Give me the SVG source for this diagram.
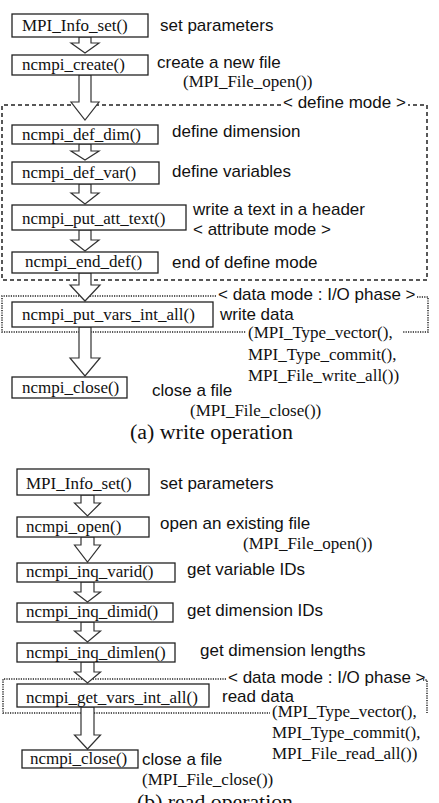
<svg xmlns="http://www.w3.org/2000/svg" width="439" height="803" viewBox="0 0 439 803">
<style>
.bg{fill:#fff}
.box{fill:#fff;stroke:#222;stroke-width:1.3}
.arrow{fill:#fff;stroke:#333;stroke-width:1.2;stroke-linejoin:miter}
.fn{font-family:"Liberation Serif","Times New Roman",serif;font-size:17px;fill:#111}
.lbl{font-family:"Liberation Sans",Arial,sans-serif;font-size:17px;fill:#111}
.cap{font-family:"Liberation Serif","Times New Roman",serif;font-size:20px;fill:#111}
.dash{fill:none;stroke:#222;stroke-width:1.5;stroke-dasharray:4 3}
.dot{fill:none;stroke:#222;stroke-width:1.5;stroke-dasharray:1.2 1.2}
</style>
<rect class="bg" x="0" y="0" width="439" height="803"/>

<g id="regions">
  <!-- (a) define mode -->
  <path class="dash" d="M281,105 H2 V280 H427 V105 H408"/>
  <text class="lbl" x="283" y="108">&lt; define mode &gt;</text>
  <!-- (a) data mode -->
  <path class="dot" d="M216,296 H2 V332 H246"/>
  <path class="dot" d="M417,297 H428 V332 H402"/>
  <text class="lbl" x="218" y="300">&lt; data mode : I/O phase &gt;</text>
  <!-- (b) data mode -->
  <path class="dot" d="M226,679 H3 V713 H270"/>
  <path class="dot" d="M423,680 H427 V713"/>
  <text class="lbl" x="228" y="683">&lt; data mode : I/O phase &gt;</text>
</g>

<g id="connectors">
  <polygon class="arrow" points="79,37 91,37 91,43 99,43 85,53 71,43 79,43"/>
  <polygon class="arrow" points="79,75 91,75 91,102 99,102 85,120 71,102 79,102"/>
  <polygon class="arrow" points="79,144 91,144 91,151 99,151 85,160 71,151 79,151"/>
  <polygon class="arrow" points="79,184 91,184 91,193 99,193 85,204 71,193 79,193"/>
  <polygon class="arrow" points="79,230 91,230 91,240 99,240 85,251 71,240 79,240"/>
  <polygon class="arrow" points="79,273 91,273 91,285 100,285 85,301 70,285 79,285"/>
  <polygon class="arrow" points="79,327 91,327 91,358 100,358 85,376 70,358 79,358"/>

  <polygon class="arrow" points="81,495 94,495 94,503 100.5,503 87.5,516 74.5,503 81,503"/>
  <polygon class="arrow" points="81,537 94,537 94,545 100.5,545 87.5,562 74.5,545 81,545"/>
  <polygon class="arrow" points="81,582 94,582 94,592 100.5,592 87.5,602 74.5,592 81,592"/>
  <polygon class="arrow" points="81,622 94,622 94,631 100.5,631 87.5,642 74.5,631 81,631"/>
  <polygon class="arrow" points="81,662 94,662 94,672 100.5,672 87.5,683 74.5,672 81,672"/>
  <polygon class="arrow" points="81,707 94,707 94,735 100.5,735 87.5,749 74.5,735 81,735"/>
</g>

<!-- (a) write operation -->
<g id="a_info_set">
  <rect class="box" x="12" y="14" width="136" height="23"/>
  <text class="fn" x="22" y="31">MPI_Info_set()</text>
  <text class="lbl" x="160" y="31">set parameters</text>
</g>
<g id="a_create">
  <rect class="box" x="12" y="55" width="136" height="20"/>
  <text class="fn" x="22" y="70">ncmpi_create()</text>
  <text class="lbl" x="157" y="68">create a new file</text>
  <text class="fn" x="183" y="87">(MPI_File_open())</text>
</g>
<g id="a_def_dim">
  <rect class="box" x="12" y="125" width="146" height="19"/>
  <text class="fn" x="22" y="140">ncmpi_def_dim()</text>
  <text class="lbl" x="172" y="137">define dimension</text>
</g>
<g id="a_def_var">
  <rect class="box" x="12" y="162" width="147" height="22"/>
  <text class="fn" x="22" y="178">ncmpi_def_var()</text>
  <text class="lbl" x="172" y="177">define variables</text>
</g>
<g id="a_put_att_text">
  <rect class="box" x="12" y="205" width="174" height="25"/>
  <text class="fn" x="22" y="224">ncmpi_put_att_text()</text>
  <text class="lbl" x="193" y="215">write a text in a header</text>
  <text class="lbl" x="193" y="235">&lt; attribute mode &gt;</text>
</g>
<g id="a_end_def">
  <rect class="box" x="12" y="252" width="146" height="21"/>
  <text class="fn" x="25" y="267">ncmpi_end_def()</text>
  <text class="lbl" x="172" y="268">end of define mode</text>
</g>
<g id="a_put_vars">
  <rect class="box" x="12" y="302" width="201" height="25"/>
  <text class="fn" x="22" y="320">ncmpi_put_vars_int_all()</text>
  <text class="lbl" x="220" y="320">write data</text>
  <text class="fn" x="248" y="338">(MPI_Type_vector(),</text>
  <text class="fn" x="248" y="360">MPI_Type_commit(),</text>
  <text class="fn" x="248" y="381">MPI_File_write_all())</text>
</g>
<g id="a_close">
  <rect class="box" x="12" y="377" width="115" height="21"/>
  <text class="fn" x="22" y="393">ncmpi_close()</text>
  <text class="lbl" x="152" y="396">close a file</text>
  <text class="fn" x="190" y="416">(MPI_File_close())</text>
</g>
<text class="cap" x="130" y="439" textLength="163" lengthAdjust="spacingAndGlyphs">(a) write operation</text>

<!-- (b) read operation -->
<g id="b_info_set">
  <rect class="box" x="17" y="469" width="132" height="26"/>
  <text class="fn" x="26" y="489">MPI_Info_set()</text>
  <text class="lbl" x="160" y="489">set parameters</text>
</g>
<g id="b_open">
  <rect class="box" x="17" y="517" width="132" height="20"/>
  <text class="fn" x="26" y="532">ncmpi_open()</text>
  <text class="lbl" x="160" y="529">open an existing file</text>
  <text class="fn" x="243" y="549">(MPI_File_open())</text>
</g>
<g id="b_inq_varid">
  <rect class="box" x="17" y="563" width="158" height="19"/>
  <text class="fn" x="26" y="577">ncmpi_inq_varid()</text>
  <text class="lbl" x="187" y="575">get variable IDs</text>
</g>
<g id="b_inq_dimid">
  <rect class="box" x="17" y="603" width="156" height="19"/>
  <text class="fn" x="26" y="617">ncmpi_inq_dimid()</text>
  <text class="lbl" x="187" y="616">get dimension IDs</text>
</g>
<g id="b_inq_dimlen">
  <rect class="box" x="17" y="643" width="158" height="19"/>
  <text class="fn" x="26" y="658">ncmpi_inq_dimlen()</text>
  <text class="lbl" x="200" y="656">get dimension lengths</text>
</g>
<g id="b_get_vars">
  <rect class="box" x="17" y="684" width="192" height="23"/>
  <text class="fn" x="26" y="703">ncmpi_get_vars_int_all()</text>
  <text class="lbl" x="222" y="702">read data</text>
  <text class="fn" x="272" y="717">(MPI_Type_vector(),</text>
  <text class="fn" x="272" y="738">MPI_Type_commit(),</text>
  <text class="fn" x="272" y="759">MPI_File_read_all())</text>
</g>
<g id="b_close">
  <rect class="box" x="22" y="750" width="116" height="18"/>
  <text class="fn" x="30" y="764">ncmpi_close()</text>
  <text class="lbl" x="142" y="765">close a file</text>
  <text class="fn" x="142" y="785">(MPI_File_close())</text>
</g>
<text class="cap" x="137" y="809" textLength="156" lengthAdjust="spacingAndGlyphs">(b) read operation</text>
</svg>
